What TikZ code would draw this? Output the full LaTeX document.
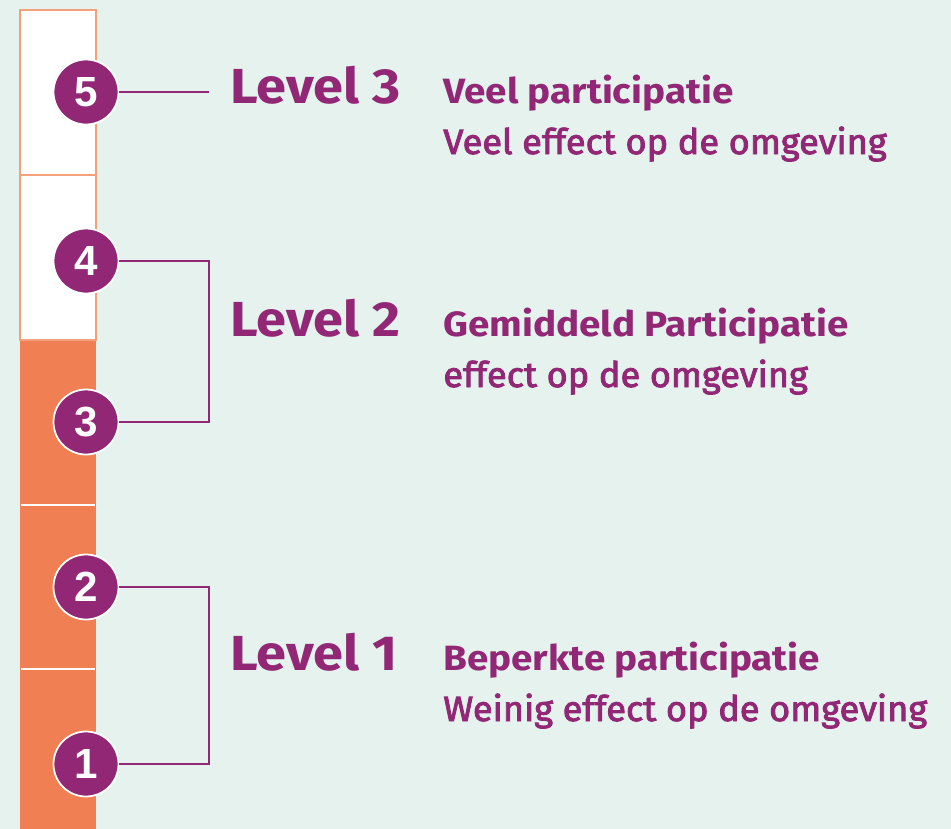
\documentclass[tikz,border=0pt]{standalone}
\usepackage{fontspec}
\setmainfont{Fira Sans}
\newfontfamily\digitfont{Liberation Sans}
\newfontfamily\headfont{Fira Sans}[FakeStretch=1.1]
\newfontfamily\subfont{Fira Sans}[FakeStretch=1.03, FakeBold=2.5]
\usetikzlibrary{positioning}
\definecolor{bgmint}{RGB}{229,242,238}
\definecolor{lvlpurple}{RGB}{146,40,117}
\definecolor{barorange}{RGB}{240,127,84}
\definecolor{edgeorange}{RGB}{244,160,122}

\begin{document}
\begin{tikzpicture}[
    x=0.02cm, y=-0.02cm,
    % bar segments
    whiteseg/.style={draw=edgeorange, line width=1pt, fill=white},
    % numbered circles
    stepdot/.style={circle, fill=lvlpurple, draw=white, line width=1pt, minimum size=1.3cm,
        inner sep=0pt, text=white, font=\digitfont\bfseries\fontsize{24}{24}\selectfont},
    % texts
    lvltext/.style={anchor=base west, inner sep=0pt, text=lvlpurple, font=\headfont\bfseries\fontsize{28}{28}\selectfont},
    titletext/.style={anchor=base west, inner sep=0pt, text=lvlpurple, font=\headfont\bfseries\fontsize{20}{20}\selectfont},
    subtext/.style={anchor=base west, inner sep=0pt, text=lvlpurple, font=\subfont\fontsize{20}{20}\selectfont},
    % connectors
    link/.style={draw=lvlpurple, line width=0.8pt},
]

% Background
\fill[bgmint] (0,0) rectangle (951,829);
\useasboundingbox (0,0) rectangle (951,829);

% Bar
\fill[barorange] (20,340) rectangle (96,829);
\draw[whiteseg] (20,10) rectangle (96,175);
\draw[whiteseg] (20,175) rectangle (96,340);
\draw[white, line width=1pt] (21,505) -- (95,505);
\draw[white, line width=1pt] (21,669) -- (95,669);

% Numbered circles
\node[stepdot] (c5) at (86,92) {5};
\node[stepdot] (c4) at (86,261) {4};
\node[stepdot] (c3) at (86,422) {3};
\node[stepdot] (c2) at (86,587) {2};
\node[stepdot] (c1) at (86,764) {1};

% Connectors
\coordinate (end5) at (209,92);
\coordinate (br2) at (209,340);
\coordinate (br1) at (209,675);
\draw[link] (c5) -- (end5);
\draw[link] (c4) -| (br2) |- (c3);
\draw[link] (c2) -| (br1) |- (c1);

% Level 3
\node[lvltext] (lvl3) at (230,103) {Level 3};
\node[titletext] (tit3) at (443,103) {Veel participatie};
\node[subtext] (sub3) at (443,154) {Veel effect op de omgeving};

% Level 2
\node[lvltext] (lvl2) at (230,336) {Level 2};
\node[titletext] (tit2) at (443,336) {Gemiddeld Participatie};
\node[subtext] (sub2) at (443,387) {effect op de omgeving};

% Level 1
\node[lvltext] (lvl1) at (230,670) {Level 1};
\node[titletext] (tit1) at (443,670) {Beperkte participatie};
\node[subtext] (sub1) at (443,721) {Weinig effect op de omgeving};

\end{tikzpicture}
\end{document}
